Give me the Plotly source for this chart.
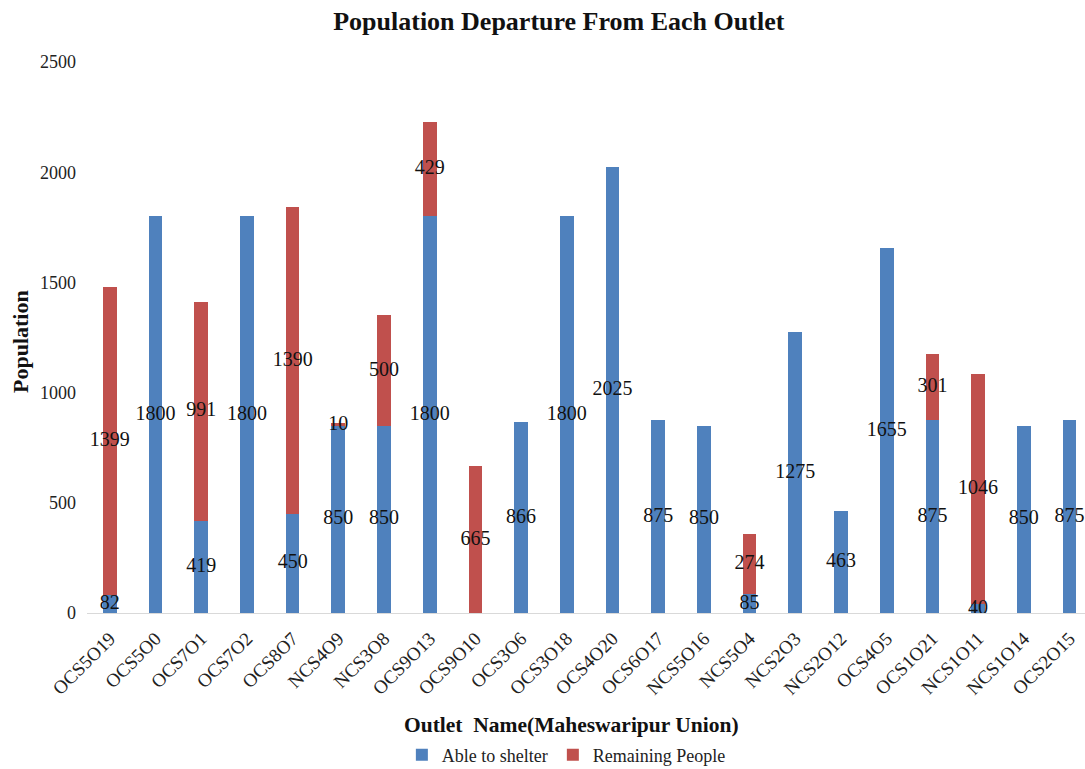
import plotly.graph_objects as go

outlets = ["OCS5O19", "OCS5O0", "OCS7O1", "OCS7O2", "OCS8O7", "NCS4O9", "NCS3O8",
           "OCS9O13", "OCS9O10", "OCS3O6", "OCS3O18", "OCS4O20", "OCS6O17", "NCS5O16",
           "NCS5O4", "NCS2O3", "NCS2O12", "OCS4O5", "OCS1O21", "NCS1O11", "NCS1O14", "OCS2O15"]
able_to_shelter = [82, 1800, 419, 1800, 450, 850, 850, 1800, 0, 866, 1800, 2025, 875, 850,
                   85, 1275, 463, 1655, 875, 40, 850, 875]
remaining_people = [1399, 0, 991, 0, 1390, 10, 500, 429, 665, 0, 0, 0, 0, 0,
                    274, 0, 0, 0, 301, 1046, 0, 0]
y_ticks = [0, 500, 1000, 1500, 2000, 2500]

BLUE = "#4F81BD"
RED = "#C0504D"
SERIF = "Liberation Serif, Times New Roman, serif"

fig = go.Figure()
fig.add_trace(go.Bar(x=outlets, y=able_to_shelter, name="Able to shelter",
                     marker=dict(color=BLUE, line=dict(width=0))))
fig.add_trace(go.Bar(x=outlets, y=remaining_people, name="Remaining People",
                     marker=dict(color=RED, line=dict(width=0))))

# centered data labels
bx, by, bt = [], [], []
for o, a in zip(outlets, able_to_shelter):
    if a > 0:
        bx.append(o); by.append(a / 2); bt.append(str(a))
rx, ry, rt = [], [], []
for o, a, r in zip(outlets, able_to_shelter, remaining_people):
    if r > 0:
        rx.append(o); ry.append(a + r / 2); rt.append(str(r))

lbl_font = dict(family=SERIF, size=20, color="#111111")
fig.add_trace(go.Scatter(x=bx, y=by, text=bt, mode="text", textposition="middle center",
                         textfont=lbl_font, showlegend=False, hoverinfo="skip", cliponaxis=False))
fig.add_trace(go.Scatter(x=rx, y=ry, text=rt, mode="text", textposition="middle center",
                         textfont=lbl_font, showlegend=False, hoverinfo="skip", cliponaxis=False))

fig.update_layout(
    barmode="stack",
    bargap=0.70,
    width=1085, height=769,
    margin=dict(l=87, r=0, t=62, b=156, autoexpand=False),
    paper_bgcolor="white", plot_bgcolor="white",
    font=dict(family=SERIF, color="#222222"),
    title=dict(text="<b>Population Departure From Each Outlet</b>",
               font=dict(family=SERIF, size=26, color="#111111"),
               x=0.515, xanchor="center", xref="container",
               y=1 - 21 / 769, yanchor="middle", yref="container"),
    legend=dict(orientation="h", xref="container", yref="container",
                x=0.522, xanchor="center", y=1 - 755 / 769, yanchor="middle",
                font=dict(family=SERIF, size=18, color="#222222"),
                itemwidth=30, traceorder="normal", tracegroupgap=0),
    showlegend=True,
)

fig.update_xaxes(
    type="category",
    range=[-0.5, 21.34],
    tickangle=-45,
    tickfont=dict(family=SERIF, size=19, color="#222222"),
    showline=True, linecolor="#D9D9D9", linewidth=1,
    showgrid=False, zeroline=False, ticks="", automargin=False,
    ticklabelstandoff=6,
)
fig.update_yaxes(
    range=[0, 2500],
    tickvals=y_ticks,
    ticktext=[str(v) for v in y_ticks],
    tickfont=dict(family=SERIF, size=18, color="#222222"),
    showgrid=False, zeroline=False, showline=False, ticks="",
    ticklabelstandoff=10, automargin=False,
)

fig.add_annotation(text="<b>Outlet  Name(Maheswaripur Union)</b>", xref="paper", yref="paper",
                   x=(571 - 87) / 998, y=(613 - 725) / 551, showarrow=False,
                   xanchor="center", yanchor="middle",
                   font=dict(family=SERIF, size=21.5, color="#111111"))
fig.add_annotation(text="<b>Population</b>", xref="paper", yref="paper",
                   x=(20 - 87) / 998, y=(613 - 342) / 551, showarrow=False, textangle=-90,
                   xanchor="center", yanchor="middle",
                   font=dict(family=SERIF, size=22, color="#111111"))

fig.write_html("out.html", config={"displayModeBar": False},
               post_script="document.body.style.margin='0px';document.body.style.overflow='hidden';")
